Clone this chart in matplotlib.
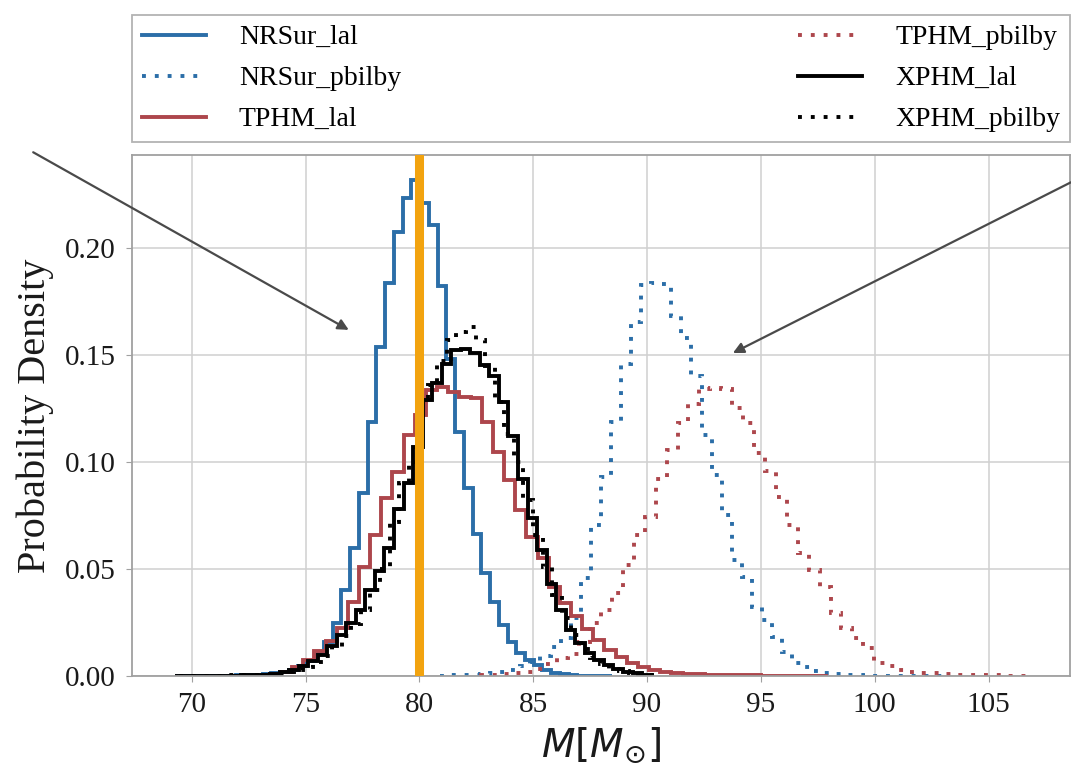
import matplotlib
matplotlib.use("Agg")
import matplotlib.pyplot as plt
import numpy as np
from matplotlib.ticker import MultipleLocator

plt.rcParams['font.family'] = ['Liberation Serif', 'DejaVu Serif']

# bin ranges (50 bins each) and densities
nrsur_lal_range = (69.28, 88.48)
nrsur_lal = [0, 0, 0, 0, 0, 0, 0.0002, 0.0003, 0.0004, 0.0006,
             0.0009, 0.0013, 0.0020, 0.0030, 0.0045, 0.0070, 0.0107, 0.0160, 0.0248, 0.0402,
             0.0597, 0.0854, 0.1188, 0.1539, 0.1835, 0.2076, 0.2232, 0.2318, 0.2209, 0.2107,
             0.1822, 0.1480, 0.1142, 0.0877, 0.0665, 0.0480, 0.0347, 0.0238, 0.0160, 0.0106,
             0.0075, 0.0051, 0.0028, 0.0014, 0.0008, 0.0004, 0.0002, 0.0001, 0, 0]

nrsur_pbilby_range = (80.90, 103.00)
nrsur_pbilby = [0.0002, 0.0003, 0.0004, 0.0006, 0.0009, 0.0013, 0.0020, 0.0030, 0.0045, 0.0065,
                0.0095, 0.0135, 0.0178, 0.0270, 0.0458, 0.0706, 0.0932, 0.1188, 0.1459, 0.1656,
                0.1825, 0.1835, 0.1830, 0.1680, 0.1580, 0.1400, 0.1126, 0.0940, 0.0752, 0.0542,
                0.0464, 0.0324, 0.0262, 0.0184, 0.0114, 0.0060, 0.0040, 0.0025, 0.0015, 0.0010,
                0.0006, 0.0004, 0.0002, 0.0002, 0.0001, 0.0001, 0.0001, 0, 0, 0]

tphm_lal_range = (73.43, 97.93)
tphm_lal = [0.0008, 0.0018, 0.0040, 0.0075, 0.0115, 0.0165, 0.0224, 0.0347, 0.0510, 0.0660,
            0.0830, 0.0955, 0.1126, 0.1220, 0.1336, 0.1348, 0.1325, 0.1304, 0.1300, 0.1188,
            0.1048, 0.0916, 0.0776, 0.0651, 0.0550, 0.0417, 0.0340, 0.0280, 0.0220, 0.0170,
            0.0120, 0.0088, 0.0063, 0.0042, 0.0030, 0.0020, 0.0015, 0.0010, 0.0008, 0.0006,
            0.0005, 0.0004, 0.0003, 0.0003, 0.0002, 0.0002, 0.0001, 0.0001, 0.0001, 0.0001]

tphm_pbilby_range = (82.70, 106.70)
tphm_pbilby = [0.0003, 0.0005, 0.0008, 0.0012, 0.0020, 0.0035, 0.0055, 0.0085, 0.0105, 0.0160,
               0.0248, 0.0308, 0.0388, 0.0519, 0.0659, 0.0744, 0.0920, 0.1056, 0.1184, 0.1270,
               0.1340, 0.1346, 0.1340, 0.1250, 0.1180, 0.1040, 0.0960, 0.0838, 0.0706, 0.0575,
               0.0495, 0.0417, 0.0294, 0.0224, 0.0178, 0.0130, 0.0060, 0.0045, 0.0028, 0.0020,
               0.0015, 0.0012, 0.0008, 0.0006, 0.0005, 0.0004, 0.0003, 0.0003, 0.0002, 0.0002]

xphm_lal_range = (69.25, 90.20)
xphm_lal = [0.0002, 0.0002, 0.0002, 0.0002, 0.0002, 0.0002, 0.0002, 0.0003, 0.0004, 0.0006,
            0.0010, 0.0018, 0.0030, 0.0045, 0.0068, 0.0100, 0.0140, 0.0190, 0.0250, 0.0310,
            0.0400, 0.0490, 0.0600, 0.0780, 0.0900, 0.1070, 0.1290, 0.1370, 0.1460, 0.1525,
            0.1530, 0.1510, 0.1453, 0.1400, 0.1280, 0.1120, 0.0920, 0.0740, 0.0590, 0.0430,
            0.0310, 0.0215, 0.0153, 0.0106, 0.0075, 0.0050, 0.0032, 0.0020, 0.0012, 0.0006]

xphm_pbilby_range = (69.45, 90.45)
xphm_pbilby = [0.0002, 0.0002, 0.0002, 0.0002, 0.0002, 0.0003, 0.0003, 0.0004, 0.0005, 0.0007,
               0.0011, 0.0018, 0.0028, 0.0042, 0.0065, 0.0095, 0.0135, 0.0185, 0.0245, 0.0310,
               0.0400, 0.0500, 0.0720, 0.0900, 0.1000, 0.1280, 0.1360, 0.1470, 0.1570, 0.1605,
               0.1630, 0.1570, 0.1450, 0.1280, 0.1130, 0.1000, 0.0820, 0.0660, 0.0510, 0.0380,
               0.0270, 0.0190, 0.0128, 0.0085, 0.0055, 0.0035, 0.0022, 0.0013, 0.0007, 0.0004]

labels = ["NRSur_lal", "NRSur_pbilby", "TPHM_lal", "TPHM_pbilby", "XPHM_lal", "XPHM_pbilby"]
injected = 80

blue = '#2b6ea8'
red = '#ad464c'
dots = (0, (1, 2.3))

series = [
    (nrsur_lal, nrsur_lal_range, blue, '-'),
    (nrsur_pbilby, nrsur_pbilby_range, blue, dots),
    (tphm_lal, tphm_lal_range, red, '-'),
    (tphm_pbilby, tphm_pbilby_range, red, dots),
    (xphm_lal, xphm_lal_range, 'black', '-'),
    (xphm_pbilby, xphm_pbilby_range, 'black', dots),
]

fig = plt.figure(figsize=(10.71, 7.69), dpi=100)
ax = fig.add_axes([0.1232, 0.1209, 0.8758, 0.6775])

for (vals, rng, col, ls), lab in zip(series, labels):
    edges = np.linspace(rng[0], rng[1], len(vals) + 1)
    ax.stairs(vals, edges, color=col, linestyle=ls, lw=2.8, label=lab)

ax.axvline(injected, color='#f2a30f', lw=6.5, zorder=5)

ax.xaxis.set_major_locator(MultipleLocator(5))
ax.yaxis.set_major_locator(MultipleLocator(0.05))
ax.grid(True, color='#d0d0d0', lw=1.1)
ax.set_axisbelow(True)
for s in ax.spines.values():
    s.set_color('#a0a0a0')
    s.set_linewidth(1.3)
ax.tick_params(colors='#a0a0a0', labelcolor='#1a1a1a', labelsize=21, length=4.5, pad=7)

ax.set_ylabel("Probability Density", fontsize=29, color='#1a1a1a', labelpad=8)
ax.set_xlabel(r'$M [M_{\odot}]$', fontsize=28, color='#1a1a1a', labelpad=6)

leg = ax.legend(loc='lower left', bbox_to_anchor=(0, 1.025, 1, 0.2), mode='expand',
                ncol=2, borderaxespad=0, fontsize=20, fancybox=False, borderpad=0.35,
                handlelength=2.3, handletextpad=1.2, labelspacing=0.56)
leg.get_frame().set_edgecolor('#a0a0a0')
leg.get_frame().set_linewidth(1.3)

arrow = dict(arrowstyle='-|>', color='#4a4a4a', lw=1.6, mutation_scale=16,
             shrinkA=0, shrinkB=0)
ax.annotate('', xy=(76.9, 0.1617), xycoords='data',
            xytext=(0.031, 0.802), textcoords='figure fraction',
            arrowprops=arrow, annotation_clip=False)
ax.annotate('', xy=(93.77, 0.1509), xycoords='data',
            xytext=(1.0, 0.763), textcoords='figure fraction',
            arrowprops=arrow, annotation_clip=False)

fig.savefig('out.png', dpi=100)
